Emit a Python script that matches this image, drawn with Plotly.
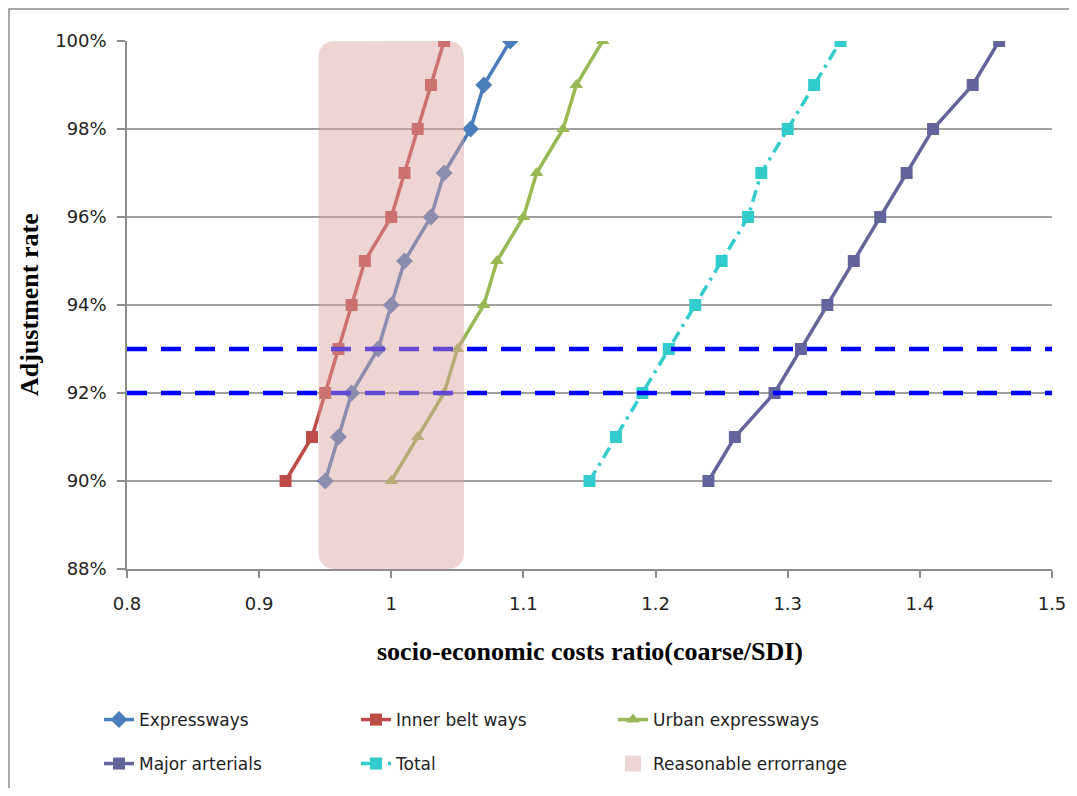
import numpy as np
import plotly.graph_objects as go

# ---------------- data ----------------
adjust_rate = [90, 91, 92, 93, 94, 95, 96, 97, 98, 99, 100]
expressways = [0.95, 0.96, 0.97, 0.99, 1.00, 1.01, 1.03, 1.04, 1.06, 1.07, 1.09]
inner_belt = [0.92, 0.94, 0.95, 0.96, 0.97, 0.98, 1.00, 1.01, 1.02, 1.03, 1.04]
urban_expr = [1.00, 1.02, 1.04, 1.05, 1.07, 1.08, 1.10, 1.11, 1.13, 1.14, 1.16]
major_art = [1.24, 1.26, 1.29, 1.31, 1.33, 1.35, 1.37, 1.39, 1.41, 1.44, 1.46]
total = [1.15, 1.17, 1.19, 1.21, 1.23, 1.25, 1.27, 1.28, 1.30, 1.32, 1.34]

err_x = [0.945, 1.055]      # reasonable error range (x)
err_y = [88, 100]           # vertical extent of the band
ref_levels = [93, 92]       # dashed reference lines

x_range = [0.8, 1.5]
y_range = [88, 100]

# ---------------- layout geometry (screen px, page has 8px body margin) ----------------
OFF = 8
W, H = 1077 - 2 * OFF, 796 - 2 * OFF
P_L, P_R, P_T, P_B = 127, 1052, 41, 569      # plot area in screen px
ML, MT = P_L - OFF, P_T - OFF
MR, MB = W - (P_R - OFF), H - (P_B - OFF)
PW, PH = P_R - P_L, P_B - P_T


def px2paper_x(sx):
    return (sx - P_L) / PW


def px2paper_y(sy):
    return (P_B - sy) / PH


fig = go.Figure()

series = [
    ("Expressways", expressways, "#4A7EBB", "diamond", 13, "solid", "legend"),
    ("Inner belt ways", inner_belt, "#BE4B48", "square", 12, "solid", "legend"),
    ("Urban expressways", urban_expr, "#98B954", "triangle-up", 12, "solid", "legend"),
    ("Major arterials", major_art, "#64649C", "square", 12, "solid", "legend2"),
    ("Total", total, "#33CCCC", "square", 12, "12px,6px,3px,6px", "legend2"),
]

for name, xs, col, sym, ms, dash, lg in series:
    fig.add_trace(go.Scatter(
        x=xs, y=adjust_rate, name=name, mode="lines+markers",
        line=dict(color=col, width=3.5, dash=dash),
        marker=dict(symbol=sym, size=ms, color=col),
        legend=lg,
    ))

for lv in ref_levels:
    fig.add_trace(go.Scatter(
        x=x_range, y=[lv, lv], mode="lines", showlegend=False,
        line=dict(color="#0000FF", width=4.5, dash="20px,14px"),
        hoverinfo="skip",
    ))

# rounded rectangle for the error band
rx = 15 * (x_range[1] - x_range[0]) / PW
ry = 15 * (y_range[1] - y_range[0]) / PH
t = np.linspace(0, np.pi / 2, 10)
x0, x1 = err_x
y0, y1 = err_y
bx, by = [], []
bx += list(x0 + rx - rx * np.cos(t)); by += list(y0 + ry - ry * np.sin(t))
bx += list(x1 - rx + rx * np.sin(t)); by += list(y0 + ry - ry * np.cos(t))
bx += list(x1 - rx + rx * np.cos(t)); by += list(y1 - ry + ry * np.sin(t))
bx += list(x0 + rx - rx * np.sin(t)); by += list(y1 - ry + ry * np.cos(t))
bx.append(bx[0]); by.append(by[0])

band_color = "rgba(220,160,160,0.45)"
fig.add_trace(go.Scatter(
    x=bx, y=by, mode="lines", fill="toself", name="Reasonable errorrange",
    fillcolor=band_color, line=dict(width=0, color="rgba(0,0,0,0)"),
    showlegend=False, hoverinfo="skip",
))
# legend entry for the band (square swatch)
fig.add_trace(go.Scatter(
    x=[None], y=[None], mode="markers", name="Reasonable errorrange",
    marker=dict(symbol="square", size=30, color="rgb(239,212,212)"),
    legend="legend2",
))

tick_font = dict(family="DejaVu Sans", size=18, color="#222222")
title_font = dict(family="Liberation Serif", size=26, color="#000000")
legend_font = dict(family="DejaVu Sans", size=17, color="#222222")

fig.update_layout(
    width=W, height=H,
    margin=dict(l=ML, r=MR, t=MT, b=MB),
    paper_bgcolor="white", plot_bgcolor="white",
    xaxis=dict(
        range=x_range, dtick=0.1, tick0=0.8, showgrid=False, zeroline=False,
        showline=True, linecolor="#8C8C8C", linewidth=1.5, automargin=False,
        ticks="outside", ticklen=7, tickcolor="#8C8C8C", tickwidth=1.5,
        tickfont=tick_font, ticklabelstandoff=11,
    ),
    yaxis=dict(
        range=y_range, dtick=2, tick0=88, ticksuffix="%", automargin=False,
        showgrid=True, gridcolor="#A0A0A0", gridwidth=1.5, zeroline=False,
        showline=True, linecolor="#8C8C8C", linewidth=1.5,
        ticks="outside", ticklen=8, tickcolor="#8C8C8C", tickwidth=1.5,
        tickfont=tick_font, ticklabelstandoff=7,
    ),
    legend=dict(
        orientation="h", xref="container", yref="container",
        x=(99 - OFF) / W, y=1 - (702 - OFF) / H, xanchor="left", yanchor="top",
        entrywidth=212, font=legend_font,
        bgcolor="rgba(0,0,0,0)", traceorder="normal",
    ),
    legend2=dict(
        orientation="h", xref="container", yref="container",
        x=(99 - OFF) / W, y=1 - (746 - OFF) / H, xanchor="left", yanchor="top",
        entrywidth=212, font=legend_font,
        bgcolor="rgba(0,0,0,0)", traceorder="normal",
    ),
    annotations=[
        dict(text="<b>socio-economic costs ratio(coarse/SDI)</b>", xref="paper", yref="paper",
             x=0.5, y=px2paper_y(651),
             xanchor="center", yanchor="middle", showarrow=False, font=title_font),
        dict(text="<b>Adjustment rate</b>", xref="paper", yref="paper",
             x=px2paper_x(29), y=px2paper_y(305), textangle=-90,
             xanchor="center", yanchor="middle", showarrow=False, font=title_font),
    ],
    shapes=[
        dict(type="rect", xref="paper", yref="paper",
             x0=px2paper_x(9), x1=1.5, y0=-2, y1=px2paper_y(9),
             line=dict(color="#8C8C8C", width=1.5), fillcolor="rgba(0,0,0,0)", layer="below"),
    ],
    showlegend=True,
)

fig.write_html("out.html")
